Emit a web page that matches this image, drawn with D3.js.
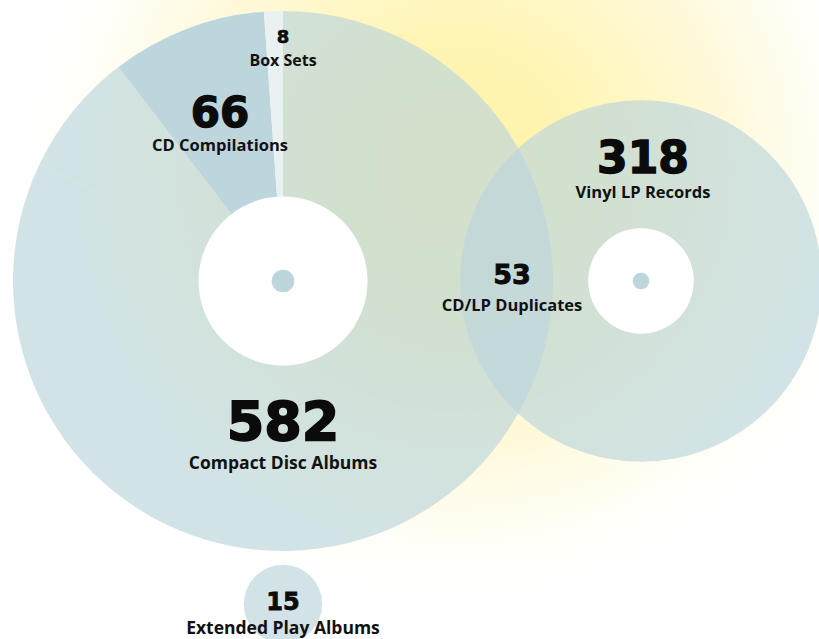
<!DOCTYPE html>
<html>
<head>
<meta charset="utf-8">
<script src="https://cdn.jsdelivr.net/npm/d3@7"></script>
<style>
  html, body { margin: 0; padding: 0; background: #fff; }
  svg { display: block; }
  .num { font-family: "DejaVu Sans", sans-serif; font-weight: bold; fill: #0b0b0b; text-anchor: middle; }
  .lab { font-family: "Open Sans", sans-serif; font-weight: 700; fill: #111; text-anchor: middle; }
</style>
</head>
<body>
<script>
// disc pie slices (CD circle), vinyl and EP
var discLabels = ["CD Compilations", "Box Sets", "Compact Disc Albums", "CD/LP Duplicates"];
var discValues = [66, 8, 582, 53];
var vinylLabel = "Vinyl LP Records";
var vinylValue = 318;
var epLabel = "Extended Play Albums";
var epValue = 15;

var W = 819, H = 639;
var svg = d3.select("body").append("svg").attr("width", W).attr("height", H);

// yellow glow behind everything
var defs = svg.append("defs");
var glow = defs.append("radialGradient").attr("id", "glow")
    .attr("gradientUnits", "userSpaceOnUse")
    .attr("cx", 455).attr("cy", 170).attr("r", 430);
glow.append("stop").attr("offset", 0).attr("stop-color", "#fff3a6");
glow.append("stop").attr("offset", 0.3).attr("stop-color", "#fff5b4");
glow.append("stop").attr("offset", 0.62).attr("stop-color", "#fff9d8");
glow.append("stop").attr("offset", 0.86).attr("stop-color", "#fffef6");
glow.append("stop").attr("offset", 1).attr("stop-color", "#ffffff");
svg.append("rect").attr("width", W).attr("height", H).attr("fill", "url(#glow)");

var total = d3.sum(discValues);
var r = d3.scaleSqrt().domain([0, total]).range([0, 270]);

var cd = {x: 283, y: 281};
var vinyl = {x: 641, y: 281};
var ep = {x: 283, y: 604};

var fills = ["#bdd6dd", "#e9f1f3", "#bcd6dc", "#bcd6dc"];
var opac = [1, 1, 0.68, 0.68];

var start = -(discValues[0] + discValues[1]) / total * 2 * Math.PI;
var pie = d3.pie().sort(null).value(function(d){ return d; })
    .startAngle(start).endAngle(start + 2 * Math.PI);
var arc = d3.arc().innerRadius(0).outerRadius(r(total));

var gcd = svg.append("g").attr("transform", "translate(" + cd.x + "," + cd.y + ")");
gcd.selectAll("path")
    .data(pie(discValues))
    .enter().append("path")
    .attr("d", arc)
    .attr("fill", function(d, i){ return fills[i]; })
    .attr("fill-opacity", function(d, i){ return opac[i]; });
gcd.append("circle").attr("r", r(total) * 0.313).attr("fill", "#fff");
gcd.append("circle").attr("r", r(total) * 0.042).attr("fill", "#bcd6dc");

// vinyl disc
var gv = svg.append("g").attr("transform", "translate(" + vinyl.x + "," + vinyl.y + ")");
gv.append("circle").attr("r", r(vinylValue)).attr("fill", "#bcd6dc").attr("fill-opacity", 0.68);
gv.append("circle").attr("r", r(vinylValue) * 0.292).attr("fill", "#fff");
gv.append("circle").attr("r", r(vinylValue) * 0.046).attr("fill", "#bcd6dc");

// EP
svg.append("circle").attr("cx", ep.x).attr("cy", ep.y).attr("r", r(epValue))
    .attr("fill", "#bcd6dc").attr("fill-opacity", 0.68);

// labels
var labels = [
  {v: discValues[1], t: discLabels[1], x: 283, y: 43, ny: 66, ns: 18, ls: 16},
  {v: discValues[0], t: discLabels[0], x: 220, y: 127, ny: 151, ns: 42, ls: 16.5},
  {v: discValues[2], t: discLabels[2], x: 283, y: 440, ny: 469, ns: 54, ls: 17.5},
  {v: discValues[3], t: discLabels[3], x: 512, y: 284, ny: 311, ns: 27, ls: 16.5},
  {v: vinylValue, t: vinylLabel, x: 643, y: 173, ny: 198, ns: 44, ls: 16.5},
  {v: epValue, t: epLabel, x: 283, y: 610, ny: 634, ns: 24, ls: 17.5}
];

svg.selectAll("text.num")
    .data(labels)
    .enter().append("text")
    .attr("class", "num")
    .attr("x", function(d){ return d.x; })
    .attr("y", function(d){ return d.y; })
    .attr("font-size", function(d){ return d.ns; })
    .attr("stroke", "#0b0b0b")
    .attr("stroke-width", function(d){ return d.ns / 30; })
    .text(function(d){ return d.v; });

svg.selectAll("text.lab")
    .data(labels)
    .enter().append("text")
    .attr("class", "lab")
    .attr("x", function(d){ return d.x; })
    .attr("y", function(d){ return d.ny; })
    .attr("font-size", function(d){ return d.ls; })
    .text(function(d){ return d.t; });
</script>
</body>
</html>
